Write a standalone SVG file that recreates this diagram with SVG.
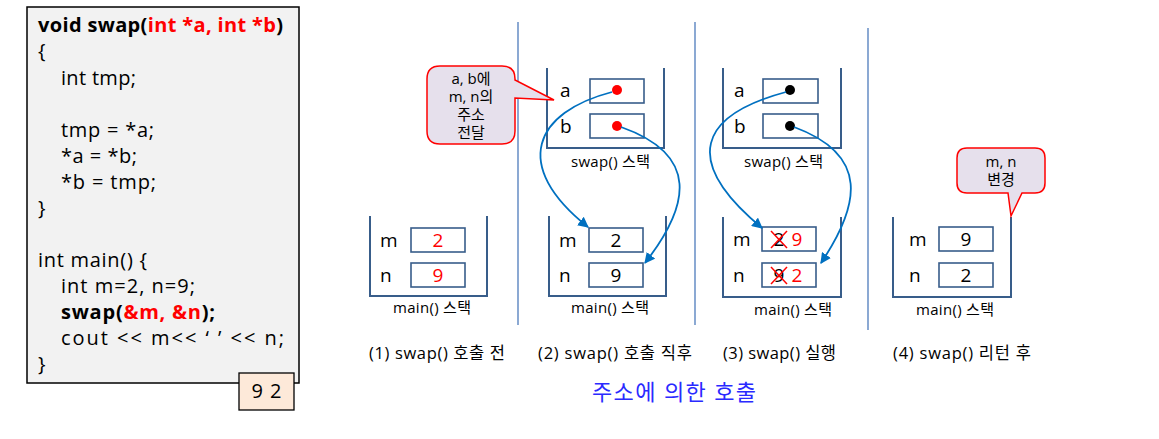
<svg xmlns="http://www.w3.org/2000/svg" width="1159" height="439" viewBox="0 0 1159 439">
<defs>
<style>
text{font-family:"Open Sans","Noto Sans CJK KR",sans-serif;fill:#000}
.code{font-size:20px}
.b{font-weight:bold}
.r{fill:#ff0000}
.stk{fill:none;stroke:#385d8a;stroke-width:2}
.cell{fill:#fff;stroke:#385d8a;stroke-width:1.6}
.lbl{font-size:19px}
.val{font-size:19px;text-anchor:middle}
.cap{font-size:15px}
.sub{font-size:16.5px}
.div{stroke:#6f94c8;stroke-width:1.6}
.arr{fill:none;stroke:#0070c0;stroke-width:1.8;marker-end:url(#ah)}
.call{fill:#e6e0ec;stroke:#ff0000;stroke-width:1.5}
.ct{font-size:15px;text-anchor:middle}
.x{stroke:#ff0000;stroke-width:1.5}
</style>
<marker id="ah" viewBox="0 0 10 10" refX="9" refY="5" markerWidth="6" markerHeight="6" orient="auto" markerUnits="strokeWidth">
<path d="M0,0 L10,5 L0,10 z" fill="#0070c0"/>
</marker>
</defs>

<g id="code">
<rect x="27" y="7" width="272" height="376" fill="#f2f2f2" stroke="#000" stroke-width="1.5"/>
<text class="code" x="38" y="32" textLength="245" lengthAdjust="spacing"><tspan class="b">void swap(</tspan><tspan class="b r">int *a, int *b</tspan><tspan class="b">)</tspan></text>
<text class="code" x="38" y="58">{</text>
<text class="code" x="61" y="85" textLength="75" lengthAdjust="spacing">int tmp;</text>
<text class="code" x="61" y="137" textLength="93" lengthAdjust="spacing">tmp = *a;</text>
<text class="code" x="61" y="163" textLength="76" lengthAdjust="spacing">*a = *b;</text>
<text class="code" x="61" y="189" textLength="95" lengthAdjust="spacing">*b = tmp;</text>
<text class="code" x="38" y="215">}</text>
<text class="code" x="38" y="267" textLength="109" lengthAdjust="spacing">int main() {</text>
<text class="code" x="61" y="293" textLength="134" lengthAdjust="spacing">int m=2, n=9;</text>
<text class="code" x="61" y="319" textLength="154" lengthAdjust="spacing"><tspan class="b">swap(</tspan><tspan class="b r">&amp;m, &amp;n</tspan><tspan class="b">);</tspan></text>
<text class="code" x="61" y="345" textLength="223" lengthAdjust="spacing" xml:space="preserve">cout &lt;&lt; m&lt;&lt; ‘ ’ &lt;&lt; n;</text>
<text class="code" x="38" y="371">}</text>
</g>

<g id="output">
<rect x="239" y="373" width="55" height="37" fill="#fde9d9" stroke="#000" stroke-width="1.3"/>
<text x="266.5" y="398" font-size="20" text-anchor="middle" textLength="30" lengthAdjust="spacing">9 2</text>
</g>

<g id="dividers">
<line class="div" x1="518" y1="22" x2="518" y2="325"/>
<line class="div" x1="695" y1="22" x2="695" y2="325"/>
<line class="div" x1="868" y1="28" x2="868" y2="330"/>
</g>

<g id="main1">
<path class="stk" d="M370,216 V296 H487 V216"/>
<rect class="cell" x="411" y="228" width="54" height="24"/>
<rect class="cell" x="411" y="263" width="54" height="24"/>
<text class="lbl" x="380" y="247">m</text>
<text class="lbl" x="380" y="282">n</text>
<text class="val r" x="438" y="247">2</text>
<text class="val r" x="438" y="282">9</text>
<text class="cap" x="393" y="313" textLength="78" lengthAdjust="spacing">main() 스택</text>
</g>

<g id="swap2">
<path class="stk" d="M547,68 V148 H664 V68"/>
<rect class="cell" x="590" y="79" width="54" height="24"/>
<rect class="cell" x="590" y="114" width="54" height="24"/>
<text class="lbl" x="560" y="97">a</text>
<text class="lbl" x="560" y="133">b</text>
<circle cx="617" cy="90" r="5" fill="#ff0000"/>
<circle cx="617" cy="126" r="5" fill="#ff0000"/>
<text class="cap" x="571" y="167" textLength="79" lengthAdjust="spacing">swap() 스택</text>
</g>

<g id="main2">
<path class="stk" d="M549,216 V296 H666 V216"/>
<rect class="cell" x="589" y="228" width="54" height="24"/>
<rect class="cell" x="589" y="263" width="54" height="24"/>
<text class="lbl" x="559" y="247">m</text>
<text class="lbl" x="559" y="282">n</text>
<text class="val" x="616" y="247">2</text>
<text class="val" x="616" y="282">9</text>
<text class="cap" x="571" y="313" textLength="78" lengthAdjust="spacing">main() 스택</text>
</g>

<g id="swap3">
<path class="stk" d="M723,68 V148 H841 V68"/>
<rect class="cell" x="763" y="79" width="55" height="24"/>
<rect class="cell" x="763" y="114" width="55" height="24"/>
<text class="lbl" x="734" y="97">a</text>
<text class="lbl" x="734" y="133">b</text>
<circle cx="790" cy="90" r="5" fill="#000"/>
<circle cx="790" cy="126" r="5" fill="#000"/>
<text class="cap" x="744" y="167" textLength="79" lengthAdjust="spacing">swap() 스택</text>
</g>

<g id="main3">
<path class="stk" d="M723,217 V297 H841 V217"/>
<rect class="cell" x="762" y="227" width="54" height="24"/>
<rect class="cell" x="762" y="263" width="54" height="24"/>
<text class="lbl" x="733" y="246">m</text>
<text class="lbl" x="733" y="282">n</text>
<text class="val" x="779" y="246">2</text>
<text class="val r" x="797" y="246">9</text>
<text class="val" x="779" y="282">9</text>
<text class="val r" x="797" y="282">2</text>
<line class="x" x1="771" y1="231" x2="787" y2="248"/>
<line class="x" x1="787" y1="231" x2="771" y2="248"/>
<line class="x" x1="771" y1="267" x2="787" y2="284"/>
<line class="x" x1="787" y1="267" x2="771" y2="284"/>
<text class="cap" x="754" y="315" textLength="78" lengthAdjust="spacing">main() 스택</text>
</g>

<g id="main4">
<path class="stk" d="M893,217 V297 H1011 V217"/>
<rect class="cell" x="939" y="227" width="54" height="24"/>
<rect class="cell" x="939" y="263" width="54" height="24"/>
<text class="lbl" x="909" y="246">m</text>
<text class="lbl" x="909" y="282">n</text>
<text class="val" x="966" y="246">9</text>
<text class="val" x="966" y="282">2</text>
<text class="cap" x="916" y="315" textLength="78" lengthAdjust="spacing">main() 스택</text>
</g>

<g id="callout1">
<path class="call" d="M440,66 H502 Q515,66 515,79 V80 L554,100 L515,98 V131 Q515,144 502,144 H440 Q427,144 427,131 V79 Q427,66 440,66 Z"/>
<text class="ct" x="471" y="84">a, b에</text>
<text class="ct" x="471" y="102">m, n의</text>
<text class="ct" x="471" y="120">주소</text>
<text class="ct" x="471" y="138">전달</text>
</g>

<g id="callout2">
<path class="call" d="M967,148 H1035 Q1045,148 1045,158 V183 Q1045,193 1035,193 H1022 L1011,216 L1008,193 H967 Q957,193 957,183 V158 Q957,148 967,148 Z"/>
<text class="ct" x="1001" y="167">m, n</text>
<text class="ct" x="1001" y="185">변경</text>
</g>

<g id="connectors">
<path class="arr" d="M612,92 C535,112 510,165 588,227"/>
<path class="arr" d="M621,127 C700,155 690,205 645,263"/>
<path class="arr" d="M786,92 C700,115 680,160 762,228"/>
<path class="arr" d="M794,127 C870,155 860,205 821,263"/>
</g>

<g id="captions">
<text class="sub" x="369" y="359" textLength="136" lengthAdjust="spacing">(1) swap() 호출 전</text>
<text class="sub" x="538" y="359" textLength="154" lengthAdjust="spacing">(2) swap() 호출 직후</text>
<text class="sub" x="723" y="359" textLength="113" lengthAdjust="spacing">(3) swap() 실행</text>
<text class="sub" x="893" y="359" textLength="138" lengthAdjust="spacing">(4) swap() 리턴 후</text>
<text x="592" y="400" font-size="22" textLength="164" lengthAdjust="spacing" style="fill:#2a2aff">주소에 의한 호출</text>
</g>
</svg>
